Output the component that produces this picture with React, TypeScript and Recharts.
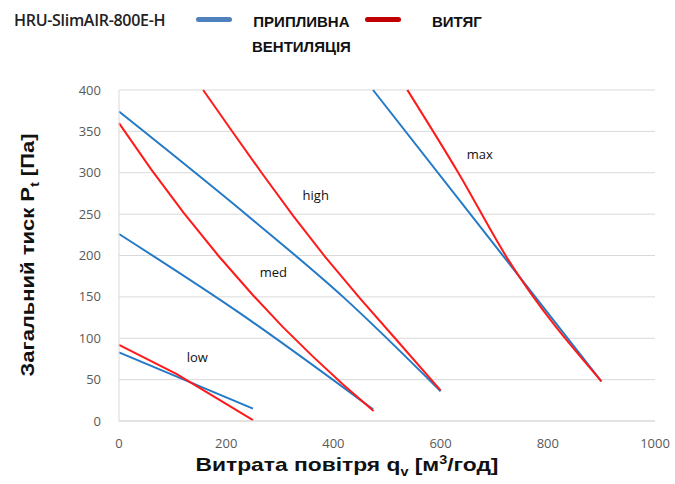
import { LineChart, Line, XAxis, YAxis, CartesianGrid, ReferenceDot } from "recharts";

// x = air flow [m3/h], y = total pressure [Pa]
const supplyLow = [
  { x: 0, y: 83 },
  { x: 250, y: 15 },
];
const supplyMed = [
  { x: 0, y: 226 },
  { x: 226, y: 130 },
  { x: 474, y: 14 },
];
const supplyHigh = [
  { x: 0, y: 374 },
  { x: 244, y: 246 },
  { x: 418, y: 150 },
  { x: 600, y: 36 },
];
const supplyMax = [
  { x: 474, y: 400 },
  { x: 900, y: 48 },
];

const exhaustLow = [
  { x: 0, y: 92 },
  { x: 107, y: 57 },
  { x: 250, y: 1 },
];
const exhaustMed = [
  { x: 0, y: 360 },
  { x: 60, y: 304 },
  { x: 120, y: 252 },
  { x: 185, y: 200 },
  { x: 250, y: 152 },
  { x: 305, y: 114 },
  { x: 360, y: 79 },
  { x: 418, y: 44 },
  { x: 475, y: 12 },
];
const exhaustHigh = [
  { x: 157, y: 400 },
  { x: 210, y: 351 },
  { x: 266, y: 300 },
  { x: 325, y: 248 },
  { x: 385, y: 198 },
  { x: 450, y: 148 },
  { x: 515, y: 100 },
  { x: 600, y: 37 },
];
const exhaustMax = [
  { x: 538, y: 400 },
  { x: 633, y: 300 },
  { x: 726, y: 195 },
  { x: 900, y: 48 },
];

const xTicks = [0, 200, 400, 600, 800, 1000];
const yTicks = [0, 50, 100, 150, 200, 250, 300, 350, 400];

const speedLabels = [
  { text: "low", x: 146, y: 77 },
  { text: "med", x: 288, y: 180 },
  { text: "high", x: 367, y: 273 },
  { text: "max", x: 673, y: 322 },
];

const BLUE = "#2379c6";
const RED = "#ff1a1a";
const tickStyle = { fill: "#595959", fontSize: 13, fontFamily: "Open Sans, sans-serif" };

export default function App() {
  const supply = [supplyLow, supplyMed, supplyHigh, supplyMax];
  const exhaust = [exhaustLow, exhaustMed, exhaustHigh];

  return (
    <div
      style={{
        position: "absolute",
        left: 0,
        top: 0,
        width: 675,
        height: 484,
        background: "#fff",
        fontFamily: "Arial, Liberation Sans, sans-serif",
      }}
    >
      {/* header / legend */}
      <div style={{ position: "absolute", left: 14, top: 9, fontSize: 16, fontFamily: "Open Sans, sans-serif", fontWeight: 600, color: "#222", letterSpacing: -0.3 }}>
        HRU-SlimAIR-800E-H
      </div>
      <div style={{ position: "absolute", left: 196, top: 17, width: 36, height: 5, borderRadius: 3, background: "#4f81bd" }} />
      <div style={{ position: "absolute", left: 252, top: 9, fontSize: 15, fontWeight: 700, lineHeight: "25px", textAlign: "center", color: "#111" }}>
        ПРИПЛИВНА
        <br />
        ВЕНТИЛЯЦІЯ
      </div>
      <div style={{ position: "absolute", left: 365, top: 17, width: 36, height: 5, borderRadius: 3, background: "#c00000" }} />
      <div style={{ position: "absolute", left: 432, top: 9, fontSize: 15, fontWeight: 700, lineHeight: "25px", color: "#111" }}>
        ВИТЯГ
      </div>

      <LineChart width={675} height={484} margin={{ top: 90, right: 20, bottom: 33, left: 59 }}>
        <CartesianGrid horizontal vertical={false} stroke="#d9d9d9" />
        <XAxis
          type="number"
          dataKey="x"
          domain={[0, 1000]}
          ticks={xTicks}
          tickLine={false}
          axisLine={{ stroke: "#d9d9d9" }}
          tick={tickStyle}
          tickMargin={12}
          height={30}
          allowDuplicatedCategory={false}
        />
        <YAxis
          type="number"
          dataKey="y"
          domain={[0, 400]}
          ticks={yTicks}
          tickLine={false}
          axisLine={{ stroke: "#d9d9d9" }}
          tick={tickStyle}
          tickMargin={12}
          width={60}
        />
        {supply.map((d, i) => (
          <Line
            key={"s" + i}
            data={d}
            dataKey="y"
            type="monotone"
            stroke={BLUE}
            strokeWidth={2}
            dot={false}
            isAnimationActive={false}
          />
        ))}
        {exhaust.map((d, i) => (
          <Line
            key={"e" + i}
            data={d}
            dataKey="y"
            type="linear"
            stroke={RED}
            strokeWidth={2}
            dot={false}
            isAnimationActive={false}
          />
        ))}
        <Line
          data={exhaustMax}
          dataKey="y"
          type="monotone"
          stroke={RED}
          strokeWidth={2}
          dot={false}
          isAnimationActive={false}
        />
        {speedLabels.map((l) => (
          <ReferenceDot
            key={l.text}
            x={l.x}
            y={l.y}
            r={0}
            stroke="none"
            fill="none"
            label={{ value: l.text, position: "center", fill: "#111", fontSize: 13, fontFamily: "Open Sans, sans-serif" }}
          />
        ))}
      </LineChart>

      {/* axis titles */}
      <div
        style={{
          position: "absolute",
          left: 30,
          top: 255,
          transform: "translate(-50%, -50%) rotate(-90deg) scaleX(1.22)",
          whiteSpace: "nowrap",
          fontSize: 18,
          fontWeight: 700,
          color: "#111",
        }}
      >
        Загальний тиск P<sub style={{ fontSize: 12 }}>t</sub> [Па]
      </div>
      <div
        style={{
          position: "absolute",
          left: 347,
          top: 466,
          transform: "translate(-50%, -50%) scaleX(1.2)",
          whiteSpace: "nowrap",
          fontSize: 19,
          fontWeight: 700,
          color: "#111",
        }}
      >
        Витрата повітря q<sub style={{ fontSize: 12 }}>v</sub> [м<sup style={{ fontSize: 12 }}>3</sup>/год]
      </div>
    </div>
  );
}
